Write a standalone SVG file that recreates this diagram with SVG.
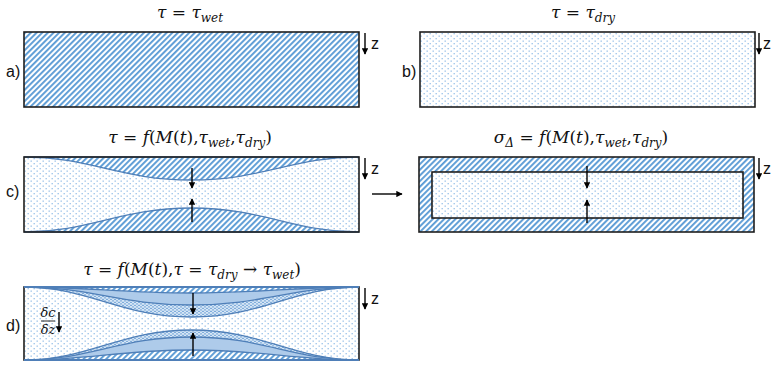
<svg xmlns="http://www.w3.org/2000/svg" width="771" height="365" viewBox="0 0 771 365">
<style>
.box{fill:none;stroke:#1e1e1e;stroke-width:1.6}
.crv{stroke:#4f7fb8;stroke-width:1.3}
.m{font-family:"DejaVu Serif","Liberation Serif",serif;font-size:17px;fill:#111}
.mi{font-style:italic}
.sub{font-size:12px;font-style:italic}
.frac{font-family:"DejaVu Serif","Liberation Serif",serif;font-size:13px;font-style:italic;fill:#111}
.lbl{font-family:"Liberation Sans",Arial,sans-serif;font-size:16px;fill:#111}
.ar{stroke:#000;stroke-width:1.4;fill:none;marker-end:url(#ah)}
</style>
<defs>
<pattern id="hatch" width="4" height="4" patternUnits="userSpaceOnUse" patternTransform="rotate(45)">
<rect width="4" height="4" fill="#fff"/><rect width="1.9" height="4" fill="#5b9bd5"/>
</pattern>
<pattern id="dots" width="6" height="5" patternUnits="userSpaceOnUse">
<rect width="6" height="5" fill="#fff"/>
<rect x="0.5" y="0.5" width="1.4" height="1.3" fill="#9fc5ea"/>
<rect x="3.5" y="3" width="1.4" height="1.3" fill="#9fc5ea"/>
</pattern>
<pattern id="dense" width="4" height="3" patternUnits="userSpaceOnUse">
<rect width="4" height="3" fill="#d6e6f6"/>
<rect x="0.3" y="0.3" width="1.4" height="1.2" fill="#5b95d0"/>
<rect x="2.3" y="1.8" width="1.4" height="1.2" fill="#5b95d0"/>
</pattern>
<marker id="ah" viewBox="0 0 10 10" refX="9" refY="5" markerWidth="4.5" markerHeight="4.5" orient="auto" markerUnits="strokeWidth">
<path d="M0,0 L10,5 L0,10 z" fill="#000"/>
</marker>
</defs>

<g id="titles">
<text class="m" x="190" y="18" text-anchor="middle"><tspan class="mi">τ</tspan> =  <tspan class="mi">τ</tspan><tspan class="sub" dy="4">wet</tspan></text>
<text class="m" x="583" y="18" text-anchor="middle"><tspan class="mi">τ</tspan> =  <tspan class="mi">τ</tspan><tspan class="sub" dy="4">dry</tspan></text>
<text class="m" x="190" y="143" text-anchor="middle"><tspan class="mi">τ</tspan> =  <tspan class="mi">f</tspan>(<tspan class="mi">M</tspan>(<tspan class="mi">t</tspan>),<tspan class="mi">τ</tspan><tspan class="sub" dy="4">wet</tspan><tspan dy="-4">,</tspan><tspan class="mi">τ</tspan><tspan class="sub" dy="4">dry</tspan><tspan dy="-4">)</tspan></text>
<text class="m" x="581" y="143" text-anchor="middle"><tspan class="mi">σ</tspan><tspan class="sub" font-style="normal" dy="4">Δ</tspan><tspan dy="-4"> =  </tspan><tspan class="mi">f</tspan>(<tspan class="mi">M</tspan>(<tspan class="mi">t</tspan>),<tspan class="mi">τ</tspan><tspan class="sub" dy="4">wet</tspan><tspan dy="-4">,</tspan><tspan class="mi">τ</tspan><tspan class="sub" dy="4">dry</tspan><tspan dy="-4">)</tspan></text>
<text class="m" x="192" y="275" text-anchor="middle"><tspan class="mi">τ</tspan> =  <tspan class="mi">f</tspan>(<tspan class="mi">M</tspan>(<tspan class="mi">t</tspan>),<tspan class="mi">τ</tspan> = <tspan class="mi">τ</tspan><tspan class="sub" dy="4">dry</tspan><tspan dy="-4"> → </tspan><tspan class="mi">τ</tspan><tspan class="sub" dy="4">wet</tspan><tspan dy="-4">)</tspan></text>
</g>

<g id="panel-a">
<rect x="24" y="32" width="335" height="75" fill="url(#hatch)"/>
<rect class="box" x="24" y="32" width="335" height="75"/>
<text class="lbl" x="6" y="77">a)</text>
</g>

<g id="panel-b">
<rect x="420" y="32" width="335" height="75" fill="url(#dots)"/>
<rect class="box" x="420" y="32" width="335" height="75"/>
<text class="lbl" x="402" y="77">b)</text>
</g>

<g id="panel-c">
<rect x="24" y="157" width="335" height="75" fill="url(#dots)"/>
<path class="crv" fill="url(#hatch)" d="M24,157 C90,157 120,180 191.5,180 C263,180 293,157 359,157 Z"/>
<path class="crv" fill="url(#hatch)" d="M24,232 C90,232 120,208 191.5,208 C263,208 293,232 359,232 Z"/>
<rect class="box" x="24" y="157" width="335" height="75"/>
<text class="lbl" x="6" y="197">c)</text>
</g>

<g id="panel-c-right">
<rect x="419" y="157" width="335" height="75" fill="url(#hatch)"/>
<rect x="432" y="172" width="311" height="46" fill="url(#dots)"/>
<rect class="box" x="432" y="172" width="311" height="46"/>
<rect class="box" x="419" y="157" width="335" height="75"/>
</g>

<g id="panel-d">
<rect x="24" y="287" width="335" height="73" fill="url(#dots)"/>
<path class="crv" fill="url(#dense)" d="M24,287 C90,287 120,317 191.5,317 C263,317 293,287 359,287 Z"/>
<path class="crv" fill="#aecbea" d="M24,287 C90,287 120,305 191.5,305 C263,305 293,287 359,287 Z"/>
<path class="crv" fill="url(#hatch)" d="M24,287 C90,287 120,293 191.5,293 C263,293 293,287 359,287 Z"/>
<path class="crv" fill="url(#dense)" d="M24,360 C90,360 120,330 191.5,330 C263,330 293,360 359,360 Z"/>
<path class="crv" fill="#aecbea" d="M24,360 C90,360 120,337 191.5,337 C263,337 293,360 359,360 Z"/>
<path class="crv" fill="url(#hatch)" d="M24,360 C90,360 120,350 191.5,350 C263,350 293,360 359,360 Z"/>
<rect class="box" x="24" y="287" width="335" height="73"/>
<line x1="24" y1="287" x2="359" y2="287" stroke="#4f7fb8" stroke-width="2"/>
<line x1="24" y1="360" x2="359" y2="360" stroke="#4f7fb8" stroke-width="2"/>
<text class="lbl" x="6" y="331">d)</text>
<text class="frac" x="48" y="317" text-anchor="middle">δc</text>
<line x1="41" y1="321" x2="55" y2="321" stroke="#111" stroke-width="0.9"/>
<text class="frac" x="48" y="334" text-anchor="middle">δz</text>
</g>

<g id="connectors">
<line class="ar" x1="365" y1="33" x2="365" y2="54"/>
<line class="ar" x1="759" y1="33" x2="759" y2="54"/>
<line class="ar" x1="365" y1="158" x2="365" y2="179"/>
<line class="ar" x1="759" y1="158" x2="759" y2="179"/>
<line class="ar" x1="365" y1="288" x2="365" y2="309"/>
<line class="ar" x1="372" y1="194" x2="402" y2="194"/>
<line class="ar" x1="192" y1="168" x2="192" y2="188"/>
<line class="ar" x1="192" y1="222" x2="192" y2="199"/>
<line class="ar" x1="587" y1="166" x2="587" y2="188"/>
<line class="ar" x1="587" y1="223" x2="587" y2="200"/>
<line class="ar" x1="193" y1="293" x2="193" y2="314"/>
<line class="ar" x1="193" y1="356" x2="193" y2="333"/>
<line class="ar" x1="59" y1="312" x2="59" y2="332"/>
<text class="lbl" x="371" y="49">z</text>
<text class="lbl" x="763" y="49">z</text>
<text class="lbl" x="371" y="174">z</text>
<text class="lbl" x="763" y="174">z</text>
<text class="lbl" x="371" y="304">z</text>
</g>
</svg>
